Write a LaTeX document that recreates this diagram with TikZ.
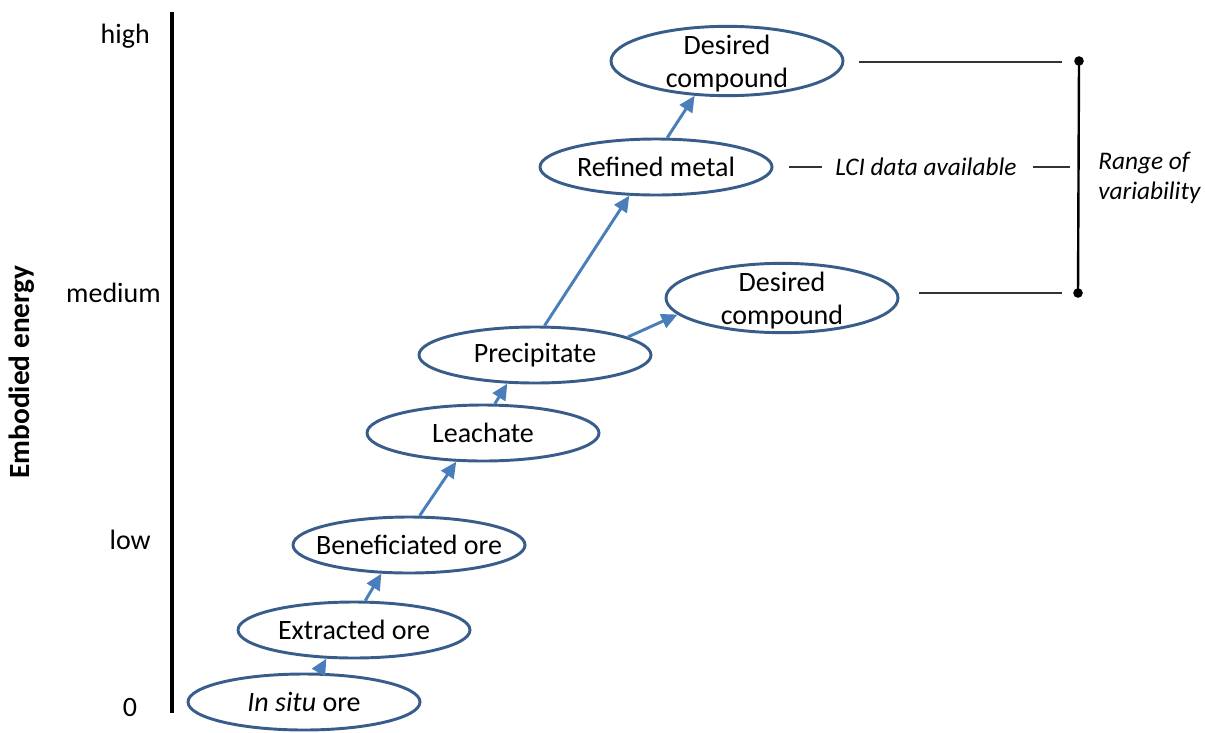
\documentclass[tikz,border=0pt]{standalone}
\usepackage{fontspec}
\setmainfont{Carlito}
\usetikzlibrary{arrows.meta,shapes.geometric}
\definecolor{ellc}{HTML}{385D8A}
\definecolor{arrc}{HTML}{4A7EBB}
\begin{document}
\begin{tikzpicture}[x=0.75pt,y=-0.75pt,
  ell/.style={draw=ellc, line width=2.2pt, ellipse, minimum width=174pt, minimum height=42pt, inner sep=0pt},
  tall/.style={minimum height=52pt},
  lbl/.style={font=\fontsize{21}{25}\selectfont, align=center, inner sep=0pt},
  arr/.style={draw=arrc, line width=2.2pt, -{Triangle[length=12pt,width=11pt]}},
  thinline/.style={line width=0.8pt, draw=black!80},
  note/.style={font=\fontsize{19}{23}\selectfont\itshape, inner sep=0pt, align=left},
  axl/.style={font=\fontsize{21}{25}\selectfont, inner sep=0pt}
]
\useasboundingbox (0,0) rectangle (1205,732);

% axis
\coordinate (axtop) at (172,12);
\coordinate (axbot) at (172,713);
\draw[line width=2.4pt] (axtop) -- (axbot);
\node[axl, anchor=east] (high) at (150,36) {high};
\node[axl, anchor=east] (medium) at (161,293) {medium};
\node[axl, anchor=east] (low) at (151,540) {low};
\node[axl] (zero) at (130,707) {0};
\node[font=\fontsize{22}{26}\selectfont\bfseries, rotate=90, inner sep=0pt] (ylab) at (22,372) {Embodied energy};

% stages
\node[ell, label={[lbl]center:\textit{In situ} ore}] (insitu) at (304,702) {};
\node[ell, label={[lbl]center:Extracted ore}] (extracted) at (354,630) {};
\node[ell, label={[lbl]center:Beneficiated ore}] (benef) at (409,545) {};
\node[ell, label={[lbl]center:Leachate}] (leach) at (483,433) {};
\node[ell, label={[lbl]center:Precipitate}] (precip) at (535,355) {};
\node[ell, tall, label={[lbl, yshift=-2pt]center:Desired\\compound}] (desired2) at (782,298) {};
\node[ell, label={[lbl]center:Refined metal}] (refined) at (656,167) {};
\node[ell, tall, label={[lbl, yshift=-2pt]center:Desired\\compound}] (desired1) at (727,61) {};

% arrows
\draw[arr] (insitu.64) -- (extracted.226);
\draw[arr] (extracted.69) -- (benef.226);
\draw[arr] (benef.70) -- (leach.227);
\draw[arr] (leach.68) -- (precip.226);
\draw[arr] (precip.72) -- (refined.227);
\draw[arr] (precip.11) -- (desired2.189);
\draw[arr] (refined.69) -- (desired1.227);

% range of variability
\coordinate (topdot) at (1079,61);
\coordinate (botdot) at (1078,293);
\coordinate (midtick) at (1070,167);
\draw[line width=1.8pt] (topdot) -- (botdot);
\fill (topdot) circle (3.6pt);
\fill (botdot) circle (3.6pt);
\node[note] (lci) at (926,167) {LCI data available};
\draw[thinline] ([shift={(15,1)}]desired1.east) -- ([shift={(-17,1)}]topdot);
\draw[thinline] ([shift={(20,-5)}]desired2.east) -- ([shift={(-16,0)}]botdot);
\draw[thinline] ([shift={(16,0)}]refined.east) -- ([shift={(-13,0)}]lci.west);
\draw[thinline] ([shift={(16,0)}]lci.east) -- (midtick);
\node[note, anchor=west] (range) at (1098,178) {Range of\\variability};
\end{tikzpicture}
\end{document}
